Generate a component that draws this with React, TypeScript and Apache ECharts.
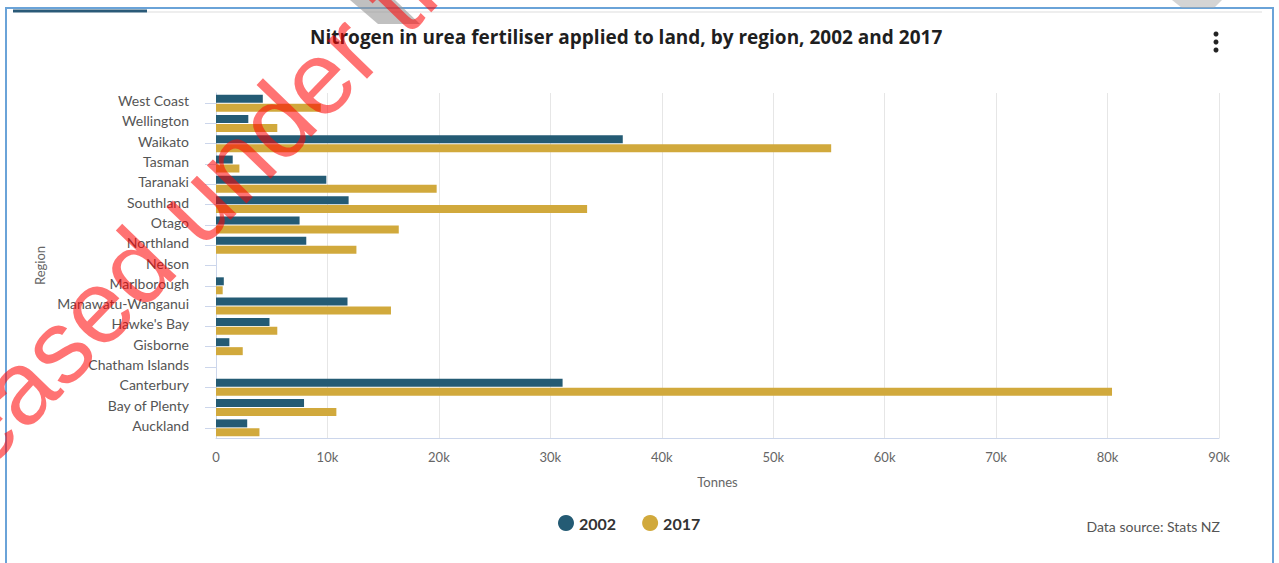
import React, { useEffect, useRef } from "react";
import * as echarts from "echarts";

const regions = [
  "West Coast",
  "Wellington",
  "Waikato",
  "Tasman",
  "Taranaki",
  "Southland",
  "Otago",
  "Northland",
  "Nelson",
  "Marlborough",
  "Manawatu-Wanganui",
  "Hawke's Bay",
  "Gisborne",
  "Chatham Islands",
  "Canterbury",
  "Bay of Plenty",
  "Auckland",
];
const values2002 = [4200, 2900, 36500, 1500, 9900, 11900, 7500, 8100, 0, 700, 11800, 4800, 1200, 0, 31100, 7900, 2800];
const values2017 = [9400, 5500, 55200, 2100, 19800, 33300, 16400, 12600, 0, 600, 15700, 5500, 2400, 0, 80400, 10800, 3900];
const seriesNames = ["2002", "2017"];
const xMax = 90000;
const xStep = 10000;

const titleText = "Nitrogen in urea fertiliser applied to land, by region, 2002 and 2017";
const sourceText = "Data source: Stats NZ";
const watermarkText = "Released under the";

const FONT = "Lato, 'Open Sans', sans-serif";

export default function App() {
  const ref = useRef<HTMLDivElement>(null);

  useEffect(() => {
    if (!ref.current) return;
    const chart = echarts.init(ref.current, undefined, { renderer: "svg" });
    const ang = (46 * Math.PI) / 180;
    chart.setOption({
      animation: false,
      backgroundColor: "#ffffff",
      textStyle: { fontFamily: FONT },
      color: ["#245b74", "#d1a93c"],
      title: {
        text: titleText,
        left: 305,
        top: 22,
        textStyle: { fontFamily: "'Open Sans', Lato, sans-serif", fontSize: 19, fontWeight: "bold", color: "#1f1f1f" },
      },
      legend: {
        data: seriesNames,
        left: 553,
        top: 510,
        icon: "circle",
        itemWidth: 16,
        itemHeight: 16,
        itemGap: 26,
        textStyle: { fontFamily: FONT, fontSize: 16, fontWeight: "bold", color: "#333" },
      },
      grid: { left: 216, right: 60, top: 93, bottom: 125, containLabel: false },
      xAxis: {
        type: "value",
        min: 0,
        max: xMax,
        interval: xStep,
        name: "Tonnes",
        nameLocation: "middle",
        nameGap: 37,
        nameTextStyle: { fontFamily: FONT, fontSize: 13, color: "#666" },
        axisLine: { show: true, lineStyle: { color: "#ccd6eb", width: 1 } },
        axisTick: { show: false },
        axisLabel: {
          fontFamily: FONT,
          fontSize: 13,
          color: "#666",
          margin: 12,
          formatter: (v: number) => (v === 0 ? "0" : v / 1000 + "k"),
        },
        splitLine: { show: true, lineStyle: { color: "#e6e6e6", width: 1 } },
      },
      yAxis: {
        type: "category",
        data: regions,
        inverse: true,
        name: "Region",
        nameLocation: "middle",
        nameGap: 168,
        nameTextStyle: { fontFamily: FONT, fontSize: 13, color: "#666" },
        axisLine: { show: true, lineStyle: { color: "#ccd6eb", width: 1 } },
        axisTick: { show: true, alignWithLabel: true, length: 11, lineStyle: { color: "#ccd6eb" } },
        axisLabel: {
          fontFamily: FONT,
          fontSize: 14,
          color: "#555",
          margin: 27,
          formatter: (v: string) => "{a|" + v + "}",
          rich: { a: { fontFamily: FONT, fontSize: 14, color: "#555", padding: [0, 0, 5, 0] } },
        },
        splitLine: { show: false },
      },
      series: [
        {
          name: seriesNames[0],
          type: "bar",
          data: values2002,
          barWidth: 8,
          barGap: "12%",
          itemStyle: { color: "#245b74" },
        },
        {
          name: seriesNames[1],
          type: "bar",
          data: values2017,
          barWidth: 8,
          itemStyle: { color: "#d1a93c" },
        },
      ],
      graphic: [
        {
          type: "rect",
          silent: true,
          shape: { x: 6, y: 8, width: 1267, height: 620 },
          style: { fill: "none", stroke: "#6aa3d8", lineWidth: 2 },
          z: 50,
        },
        {
          type: "line",
          silent: true,
          shape: { x1: 147, y1: 12, x2: 1262, y2: 12 },
          style: { stroke: "#dddddd", lineWidth: 1 },
        },
        {
          type: "line",
          silent: true,
          shape: { x1: 13, y1: 11, x2: 147, y2: 11 },
          style: { stroke: "#2a5a78", lineWidth: 3 },
        },
        {
          type: "circle",
          shape: { cx: 1216, cy: 34, r: 2.5 },
          style: { fill: "#222" },
        },
        {
          type: "circle",
          shape: { cx: 1216, cy: 42, r: 2.5 },
          style: { fill: "#222" },
        },
        {
          type: "circle",
          shape: { cx: 1216, cy: 50, r: 2.5 },
          style: { fill: "#222" },
        },
        {
          type: "text",
          x: 1220,
          y: 526,
          style: {
            text: sourceText,
            font: "14px " + FONT,
            fill: "#555",
            textAlign: "right",
            textVerticalAlign: "middle",
          },
        },
        {
          type: "polygon",
          silent: true,
          shape: { points: [[350, 0], [395, 0], [420, 24], [378, 24]] },
          style: { fill: "rgba(150,150,150,0.6)" },
          z: 90,
        },
        {
          type: "polygon",
          silent: true,
          shape: { points: [[1172, 0], [1222, 0], [1214, 8], [1182, 8]] },
          style: { fill: "rgba(170,170,170,0.5)" },
          z: 90,
        },
        {
          type: "text",
          silent: true,
          x: -150,
          y: 562,
          rotation: ang,
          style: {
            text: watermarkText,
            font: "104px 'Liberation Sans', Arial, sans-serif",
            fill: "rgba(255,0,0,0.55)",
            textAlign: "left",
            textVerticalAlign: "middle",
          },
          z: 100,
        },
      ],
    });
    return () => chart.dispose();
  }, []);

  return (
    <div
      ref={ref}
      style={{ position: "fixed", left: 0, top: 0, width: 1279, height: 563 }}
    />
  );
}
